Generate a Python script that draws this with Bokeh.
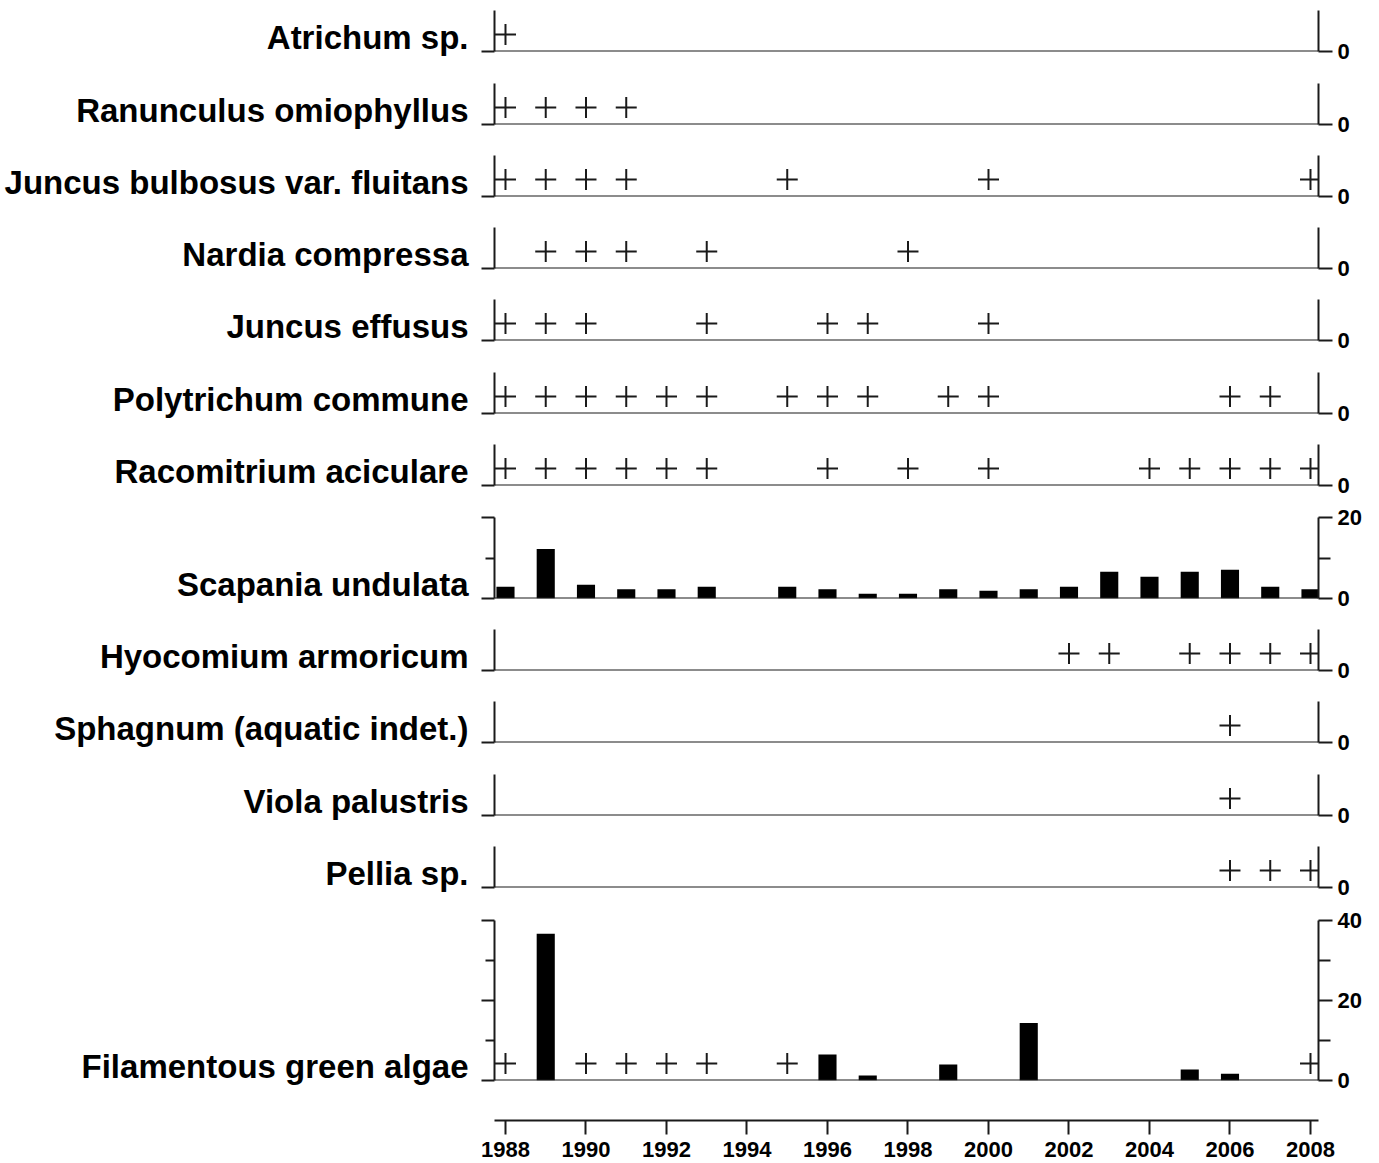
from bokeh.plotting import figure
from bokeh.layouts import column
from bokeh.models import Range1d, FixedTicker, LinearAxis, Span
from bokeh.embed import file_html
from bokeh.resources import INLINE

# ---------------- data ----------------
year_ticks = [1988, 1990, 1992, 1994, 1996, 1998, 2000, 2002, 2004, 2006, 2008]

atrichum = [1988]
ranunculus = [1988, 1989, 1990, 1991]
juncus_bulbosus = [1988, 1989, 1990, 1991, 1995, 2000, 2008]
nardia = [1989, 1990, 1991, 1993, 1998]
juncus_effusus = [1988, 1989, 1990, 1993, 1996, 1997, 2000]
polytrichum = [1988, 1989, 1990, 1991, 1992, 1993, 1995, 1996, 1997, 1999, 2000, 2006, 2007]
racomitrium = [1988, 1989, 1990, 1991, 1992, 1993, 1996, 1998, 2000, 2004, 2005, 2006, 2007, 2008]

scapania_years = [1988, 1989, 1990, 1991, 1992, 1993, 1995, 1996, 1997, 1998, 1999, 2000,
                  2001, 2002, 2003, 2004, 2005, 2006, 2007, 2008]
scapania_values = [2.9, 12.2, 3.4, 2.3, 2.3, 2.9, 2.9, 2.3, 1.2, 1.2, 2.3, 1.9,
                   2.3, 2.9, 6.6, 5.4, 6.6, 7.1, 2.9, 2.3]

hyocomium = [2002, 2003, 2005, 2006, 2007, 2008]
sphagnum = [2006]
viola = [2006]
pellia = [2006, 2007, 2008]

algae_years = [1989, 1996, 1997, 1999, 2001, 2005, 2006]
algae_values = [36.7, 6.5, 1.25, 4.0, 14.4, 2.75, 1.7]
algae_present = [1988, 1990, 1991, 1992, 1993, 1995, 2008]

# ---------------- style ----------------
C = "#1a1a1a"
FONT = "Liberation Sans"
X_START, X_END = 1987.727, 2008.199
LEFT = 494
FRAME_W = 824
RIGHT = 48
W = LEFT + FRAME_W + RIGHT


def base_fig(top, frame_h, bottom, x_axis=None):
    p = figure(width=W, height=top + frame_h + bottom,
               x_range=Range1d(X_START, X_END),
               x_axis_location=x_axis, y_axis_location=None,
               output_backend="svg", toolbar_location=None,
               min_border_left=LEFT, min_border_right=RIGHT,
               min_border_top=top, min_border_bottom=bottom)
    p.outline_line_color = None
    p.xgrid.visible = False
    p.ygrid.visible = False
    p.background_fill_color = "white"
    p.border_fill_color = "white"
    return p


def style_ticks(a, major_out, minor_out):
    a.axis_line_color = C
    a.axis_line_width = 2
    a.major_tick_line_color = C
    a.major_tick_line_width = 2
    a.minor_tick_line_color = C
    a.minor_tick_line_width = 2
    a.major_tick_in = 0
    a.minor_tick_in = 0
    a.major_tick_out = major_out
    a.minor_tick_out = minor_out


def add_vaxes(p, name, name_level, major, minor, labels):
    # left axis: ticks only
    la = LinearAxis(ticker=FixedTicker(ticks=major, minor_ticks=minor))
    style_ticks(la, 13, 9)
    la.major_label_standoff = 0
    la.major_label_overrides = {t: "" for t in major}
    p.add_layout(la, "left")

    # left name axis: the species name, no line, no tick
    na = LinearAxis(ticker=FixedTicker(ticks=[name_level]))
    na.axis_line_color = None
    na.major_tick_line_color = None
    na.minor_tick_line_color = None
    na.major_tick_out = 0
    na.major_tick_in = 0
    na.major_label_standoff = 13
    na.major_label_text_font = FONT
    na.major_label_text_font_style = "bold"
    na.major_label_text_font_size = "33px"
    na.major_label_text_color = "black"
    na.major_label_overrides = {name_level: name}
    p.add_layout(na, "left")

    # right axis: ticks and values
    ra = LinearAxis(ticker=FixedTicker(ticks=major, minor_ticks=minor))
    style_ticks(ra, 14, 12)
    ra.major_label_standoff = 5
    ra.major_label_text_font = FONT
    ra.major_label_text_font_style = "bold"
    ra.major_label_text_font_size = "22px"
    ra.major_label_text_color = "black"
    ra.major_label_overrides = {t: (str(t) if t in labels else "") for t in major}
    p.add_layout(ra, "right")

    p.add_layout(Span(location=0, dimension="width", line_color=C, line_width=2))


def panel(name, plus_years, top, frame_h=41, bottom=16, ymax=1.0,
          major=(0,), minor=(), labels=(0,), bar_years=None, bar_values=None):
    p = base_fig(top, frame_h, bottom)
    p.y_range = Range1d(0, ymax)
    px = ymax / frame_h  # data units per pixel
    add_vaxes(p, name, 14.0 * px, list(major), list(minor), list(labels))
    if bar_years is not None:
        p.vbar(x=bar_years, top=bar_values, bottom=0, width=0.45,
               fill_color="black", line_color=None)
    if plus_years:
        plus_y = 17.0 * px
        p.scatter(x=plus_years, y=[plus_y] * len(plus_years), marker="cross",
                  size=21, line_width=2, line_color=C)
    return p


figs = [
    panel("Atrichum sp.", atrichum, top=10),
    panel("Ranunculus omiophyllus", ranunculus, top=16),
    panel("Juncus bulbosus var. fluitans", juncus_bulbosus, top=15),
    panel("Nardia compressa", nardia, top=15),
    panel("Juncus effusus", juncus_effusus, top=15),
    panel("Polytrichum commune", polytrichum, top=16),
    panel("Racomitrium aciculare", racomitrium, top=15),
    panel("Scapania undulata", [], top=16, frame_h=81, ymax=20,
          major=(0, 20), minor=(10,), labels=(0, 20),
          bar_years=scapania_years, bar_values=scapania_values),
    panel("Hyocomium armoricum", hyocomium, top=15),
    panel("Sphagnum (aquatic indet.)", sphagnum, top=15),
    panel("Viola palustris", viola, top=16),
    panel("Pellia sp.", pellia, top=15),
    panel("Filamentous green algae", algae_present, top=17, frame_h=160, ymax=40,
          major=(0, 20, 40), minor=(10, 30), labels=(0, 20, 40),
          bar_years=algae_years, bar_values=algae_values),
]

# bottom year axis
ax = base_fig(2, 22, 43, x_axis="below")
ax.y_range = Range1d(0, 1)
xa = ax.xaxis[0]
xa.ticker = FixedTicker(ticks=year_ticks)
xa.axis_line_color = C
xa.axis_line_width = 2
xa.major_tick_line_color = C
xa.major_tick_line_width = 2
xa.major_tick_in = 0
xa.major_tick_out = 14
xa.minor_tick_line_color = None
xa.major_label_standoff = 7
xa.major_label_text_font = FONT
xa.major_label_text_font_style = "bold"
xa.major_label_text_font_size = "22px"
xa.major_label_text_color = "black"
figs.append(ax)

layout = column(*figs, spacing=0)
open("out.html", "w").write(file_html(layout, INLINE))
